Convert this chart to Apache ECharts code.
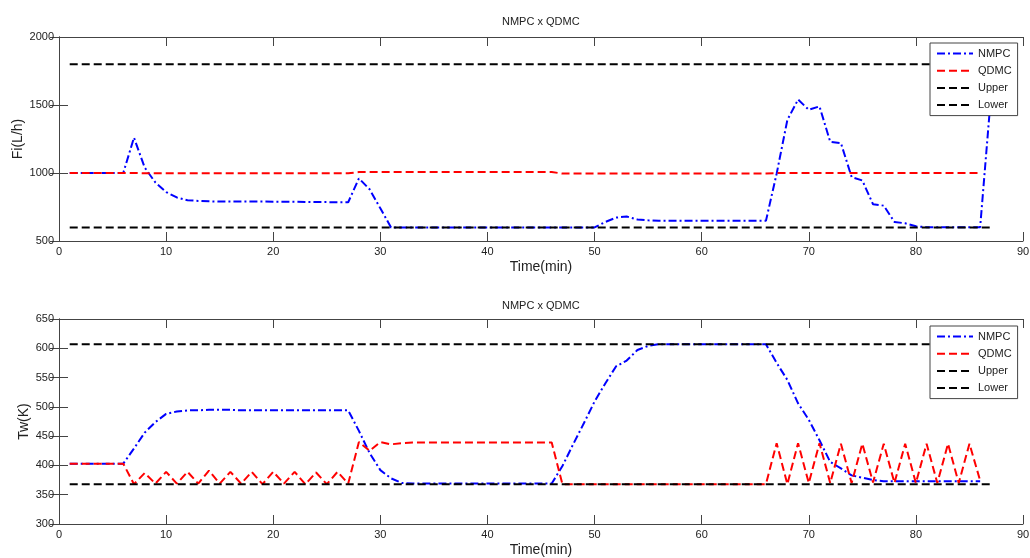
<!DOCTYPE html>
<html>
<head>
<meta charset="utf-8">
<script src="https://cdn.jsdelivr.net/npm/echarts@6/dist/echarts.min.js"></script>
<style>
html,body{margin:0;padding:0;background:#fff;}
#chart{width:1030px;height:558px;}
</style>
</head>
<body>
<div id="chart"></div>
<script>
// ---- data ----
const titleText = 'NMPC x QDMC';
const xName = 'Time(min)';
const yNameTop = 'Fi(L/h)';
const yNameBottom = 'Tw(K)';
const legendNames = ['NMPC', 'QDMC', 'Upper', 'Lower'];

const timeA = [1,2,3,4,5,6,7,8,9,10,11,12,13,14,15,16,17,18,19,20,21,22,23,24,25,26,27,28,29,30,
  31,32,33,34,35,36,37,38,39,40,41,42,43,44,45,46,47,48,49,50,51,52,53,54,55,56,57,58,59,60,
  61,62,63,64,65,66,67,68,69,70,71,72,73,74,75,76,77,78,79,80,81,82,83,84,85,86,87];
const boundTime = [1, 87];

// Top panel: Fi (L/h)
const fiNMPC = [1000,1000,1000,1000,1000,1000,1260,1040,930,860,820,800,795,792,790,790,790,790,790,789,
  789,788,787,786,786,785,785,960,880,740,600,600,600,600,600,600,600,600,600,600,
  600,600,600,600,600,600,600,600,600,600,640,672,680,658,652,648,648,648,648,648,
  648,648,648,648,648,648,995,1390,1540,1465,1490,1230,1220,970,945,770,760,640,630,608,
  602,602,602,602,602,602,1560];
const fiQDMC = [1000,1000,1000,1000,1000,1000,1000,998,998,998,998,998,998,998,998,998,998,998,998,998,
  998,998,998,998,998,998,998,1007,1007,1007,1007,1007,1007,1007,1007,1007,1007,1007,1007,1007,
  1007,1007,1007,1007,1007,1007,996,996,996,996,996,996,996,996,996,996,996,996,996,996,
  996,996,996,996,996,996,1000,1000,1000,1000,1000,1000,1000,1000,1000,1000,1000,1000,1000,1000,
  1000,1000,1000,1000,1000,1000];
const fiUpper = [1800, 1800];
const fiLower = [600, 600];

// Bottom panel: Tw (K)
const twNMPC = [403,403,403,403,403,403,429,456,474,488,492,494,494,495,495,495,494,494,494,494,
  494,494,494,494,494,494,494,459,421,392,378,370,369,369,369,369,369,369,369,369,
  369,369,369,369,369,369,399,436,472,509,540,569,579,597,604,607,607,607,607,607,
  607,607,607,607,607,607,575,546,506,478,443,406,395,383,379,375,373,373,373,373,
  373,373,373,373,373,373];
const twQDMC = [403,403,403,403,403,403,368,387,369,389,369,389,369,391,369,389,369,389,368,389,
  369,389,368,388,368,389,369,440,425,440,436,438,439,439,439,439,439,439,439,439,
  439,439,439,439,439,439,368,368,368,368,368,368,368,368,368,368,368,368,368,368,
  368,368,368,368,368,368,438,368,438,370,438,370,437,370,437,371,437,370,437,370,
  437,370,437,370,437,374];
const twUpper = [607, 607];
const twLower = [368, 368];

// ---- helpers ----
function pairs(xs, ys) { return ys.map((v, i) => [xs[i], v]); }

const FONT = "'Liberation Sans', Arial, sans-serif";
const TXT = '#222';
const AX = '#444';
const BLUE = '#0000ff', RED = '#ff0000', BLACK = '#000000';
const dashDot = [8, 3, 2, 3];
const dash = [8, 4];

function lineSeries(name, data, color, type, idx) {
  return {
    name: name, type: 'line', data: data,
    xAxisIndex: idx * 2, yAxisIndex: idx * 2,
    symbol: 'none', showSymbol: false, animation: false,
    lineStyle: { color: color, width: 2, type: type },
    itemStyle: { color: color },
    emphasis: { disabled: true }
  };
}

const grids = [
  { left: 59, top: 37, width: 964, height: 204, containLabel: false, outerBoundsMode: 'none' },
  { left: 59, top: 319, width: 964, height: 205, containLabel: false, outerBoundsMode: 'none' }
];

const plainLabel = function (v) { return String(v); };

function xAxes(gi) {
  return [
    { type: 'value', gridIndex: gi, min: 0, max: 90, interval: 10, position: 'bottom',
      name: xName, nameLocation: 'middle', nameGap: 19, nameMoveOverlap: false,
      nameTextStyle: { color: TXT, fontSize: 14, fontFamily: FONT },
      axisLine: { show: true, lineStyle: { color: AX } },
      axisTick: { show: true, inside: true, length: 9, lineStyle: { color: AX } },
      axisLabel: { color: TXT, fontSize: 11, fontFamily: FONT, margin: 5, formatter: plainLabel },
      splitLine: { show: false } },
    { type: 'value', gridIndex: gi, min: 0, max: 90, interval: 10, position: 'top',
      axisLine: { show: true, lineStyle: { color: AX } },
      axisTick: { show: true, inside: true, length: 9, lineStyle: { color: AX } },
      axisLabel: { show: false }, splitLine: { show: false } }
  ];
}
function yAxes(gi, min, max, interval, name, gap) {
  return [
    { type: 'value', gridIndex: gi, min: min, max: max, interval: interval, position: 'left',
      name: name, nameLocation: 'middle', nameGap: gap, nameMoveOverlap: false,
      nameTextStyle: { color: TXT, fontSize: 14, fontFamily: FONT },
      axisLine: { show: true, lineStyle: { color: AX } },
      axisTick: { show: true, inside: true, length: 9, lineStyle: { color: AX } },
      axisLabel: { color: TXT, fontSize: 11, fontFamily: FONT, margin: 5, formatter: plainLabel },
      splitLine: { show: false } },
    { type: 'value', gridIndex: gi, min: min, max: max, interval: interval, position: 'right',
      axisLine: { show: true, lineStyle: { color: AX } },
      axisTick: { show: true, inside: true, length: 9, lineStyle: { color: AX } },
      axisLabel: { show: false }, splitLine: { show: false } }
  ];
}

function legendAt(top) {
  return {
    data: legendNames, orient: 'vertical', left: 930, top: top,
    backgroundColor: '#fff', borderColor: AX, borderWidth: 1,
    padding: [5, 6, 5, 6], itemWidth: 36, itemHeight: 10, itemGap: 6.2,
    itemStyle: { opacity: 0, borderWidth: 0 },
    textStyle: { color: TXT, fontSize: 11, fontFamily: FONT },
    selectedMode: false, z: 10
  };
}

const option = {
  backgroundColor: '#fff',
  animation: false,
  title: [
    { text: titleText, left: 502, top: 16, padding: 0,
      textStyle: { color: TXT, fontSize: 11, fontWeight: 'normal', fontFamily: FONT } },
    { text: titleText, left: 502, top: 300, padding: 0,
      textStyle: { color: TXT, fontSize: 11, fontWeight: 'normal', fontFamily: FONT } }
  ],
  legend: [legendAt(43), legendAt(326)],
  grid: grids,
  xAxis: xAxes(0).concat(xAxes(1)),
  yAxis: yAxes(0, 500, 2000, 500, yNameTop, 34).concat(yAxes(1, 300, 650, 50, yNameBottom, 28)),
  series: [
    lineSeries('NMPC', pairs(timeA, fiNMPC), BLUE, dashDot, 0),
    lineSeries('QDMC', pairs(timeA, fiQDMC), RED, dash, 0),
    lineSeries('Upper', pairs(boundTime, fiUpper), BLACK, dash, 0),
    lineSeries('Lower', pairs(boundTime, fiLower), BLACK, dash, 0),
    lineSeries('NMPC', pairs(timeA, twNMPC), BLUE, dashDot, 1),
    lineSeries('QDMC', pairs(timeA, twQDMC), RED, dash, 1),
    lineSeries('Upper', pairs(boundTime, twUpper), BLACK, dash, 1),
    lineSeries('Lower', pairs(boundTime, twLower), BLACK, dash, 1)
  ]
};

const chart = echarts.init(document.getElementById('chart'), null, { renderer: 'canvas' });
chart.setOption(option);
</script>
</body>
</html>
